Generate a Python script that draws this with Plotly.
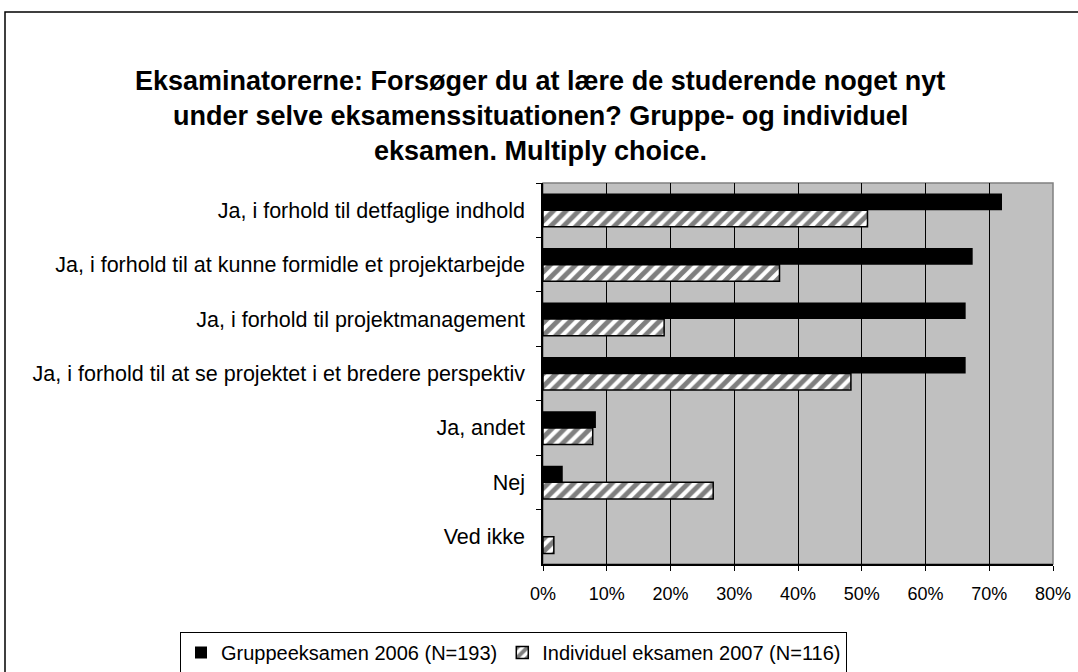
import plotly.graph_objects as go

categories = [
    "Ja, i forhold til detfaglige indhold",
    "Ja, i forhold til at kunne formidle et projektarbejde",
    "Ja, i forhold til projektmanagement",
    "Ja, i forhold til at se projektet i et bredere perspektiv",
    "Ja, andet",
    "Nej",
    "Ved ikke",
]
gruppe_2006 = [72.0, 67.4, 66.3, 66.3, 8.3, 3.1, 0.0]
individuel_2007 = [50.9, 37.1, 19.0, 48.3, 7.8, 26.7, 1.7]
series_names = ["Gruppeeksamen 2006 (N=193)", "Individuel eksamen 2007 (N=116)"]
title_lines = [
    "Eksaminatorerne: Forsøger du at lære de studerende noget nyt",
    "under selve eksamenssituationen? Gruppe- og individuel",
    "eksamen. Multiply choice.",
]
x_ticks = [0, 10, 20, 30, 40, 50, 60, 70, 80]

FONT = "Liberation Sans, Arial, sans-serif"
W, H = 1078, 672
L, R_EDGE, T, B_EDGE = 543, 1053, 183, 564
PW, PH = R_EDGE - L, B_EDGE - T


def px_x(x):
    return (x - L) / PW


def px_y(y):
    return (B_EDGE - y) / PH


fig = go.Figure()
fig.add_trace(go.Bar(
    y=categories, x=gruppe_2006, name=series_names[0], orientation="h",
    marker=dict(color="black", line=dict(color="black", width=0)),
))
fig.add_trace(go.Bar(
    y=categories, x=individuel_2007, name=series_names[1], orientation="h",
    marker=dict(color="white", line=dict(color="black", width=1.5),
                pattern=dict(shape="/", fgcolor="black", bgcolor="white",
                             size=9, solidity=0.55)),
))

annotations = []
for i, line in enumerate(title_lines):
    annotations.append(dict(
        text="<b>%s</b>" % line, xref="paper", yref="paper",
        x=px_x(540), y=px_y(81 + 35 * i), xanchor="center", yanchor="middle",
        showarrow=False, font=dict(family=FONT, size=27, color="black"),
    ))

shapes = [
    dict(type="rect", xref="paper", yref="paper",
         x0=px_x(5), x1=px_x(1085), y0=px_y(690), y1=px_y(12),
         line=dict(color="black", width=1.5), fillcolor="rgba(0,0,0,0)", layer="below"),
    dict(type="rect", xref="paper", yref="paper", x0=0, x1=1, y0=0, y1=1,
         line=dict(color="#808080", width=1.5), fillcolor="rgba(0,0,0,0)", layer="below"),
]

fig.update_layout(
    width=W, height=H,
    margin=dict(l=L, r=W - R_EDGE, t=T, b=H - B_EDGE, pad=0, autoexpand=False),
    paper_bgcolor="white", plot_bgcolor="#C0C0C0",
    barmode="group", bargap=0.39, bargroupgap=0,
    font=dict(family=FONT, size=20, color="black"),
    showlegend=True,
    legend=dict(
        orientation="h", x=px_x(180), y=px_y(632), xanchor="left", yanchor="top",
        bordercolor="black", borderwidth=1, bgcolor="white",
        font=dict(family=FONT, size=20, color="black"),
        traceorder="normal", itemwidth=30,
    ),
    annotations=annotations, shapes=shapes,
)
fig.update_xaxes(
    range=[0, 80], tickvals=x_ticks, ticktext=["%d%%" % v for v in x_ticks],
    showgrid=True, gridcolor="black", gridwidth=1,
    showline=True, linecolor="black", linewidth=1.5,
    ticks="outside", ticklen=5, tickcolor="black",
    tickfont=dict(family=FONT, size=18), ticklabelstandoff=8,
    zeroline=False, fixedrange=True,
)
fig.update_yaxes(
    type="category", categoryorder="array", categoryarray=categories,
    autorange="reversed", showgrid=False,
    showline=True, linecolor="black", linewidth=1.5,
    ticks="outside", ticklen=5, tickcolor="black", tickson="boundaries",
    tickfont=dict(family=FONT, size=21.5), ticklabelstandoff=12,
    fixedrange=True,
)

fig.write_html("out.html", config={"displayModeBar": False},
               post_script="document.body.style.margin='0px';")
